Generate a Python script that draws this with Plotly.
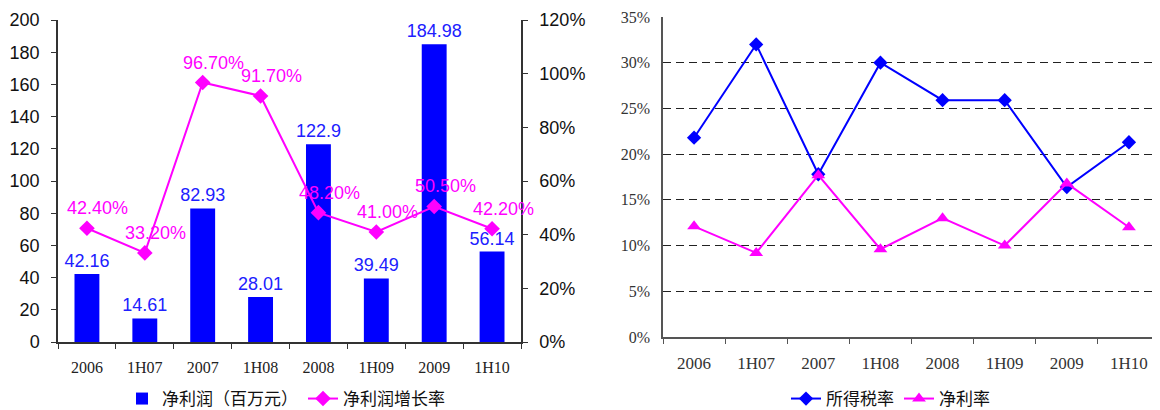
import plotly.graph_objects as go

categories = ["2006", "1H07", "2007", "1H08", "2008", "1H09", "2009", "1H10"]
net_profit = [42.16, 14.61, 82.93, 28.01, 122.9, 39.49, 184.98, 56.14]
net_profit_labels = ["42.16", "14.61", "82.93", "28.01", "122.9", "39.49", "184.98", "56.14"]
profit_growth = [0.424, 0.332, 0.967, 0.917, 0.482, 0.410, 0.505, 0.422]
income_tax_rate = [0.218, 0.32, 0.178, 0.30, 0.259, 0.259, 0.164, 0.213]
net_margin = [0.121, 0.092, 0.177, 0.096, 0.130, 0.100, 0.168, 0.120]

BLUE = "#0000FF"
MAG = "#FF00FF"
SANS = "Liberation Sans, Arial, sans-serif"
SERIF = "Liberation Serif, DejaVu Serif, serif"
CJK = "Noto Sans CJK SC, sans-serif"

fig = go.Figure()

fig.add_trace(go.Bar(
    x=categories, y=net_profit, name="净利润（百万元）",
    marker=dict(color=BLUE, line=dict(width=0)), width=0.43,
    text=net_profit_labels, textposition="outside", constraintext="none",
    textfont=dict(color="#2020FF", size=18, family=SANS),
    cliponaxis=False, xaxis="x", yaxis="y", legend="legend",
))
fig.add_trace(go.Scatter(
    x=categories, y=profit_growth, name="净利润增长率",
    mode="lines+markers",
    line=dict(color=MAG, width=2),
    marker=dict(symbol="diamond", size=12, color=MAG),
    cliponaxis=False, xaxis="x", yaxis="y2", legend="legend",
))
# labels of the growth line: category index on the category axis
for i, v in enumerate(profit_growth):
    fig.add_annotation(x=i, y=v, xref="x", yref="y2", text=f"{v*100:.2f}%",
                       showarrow=False, xshift=11, yshift=20,
                       font=dict(color=MAG, size=18, family=SANS))

fig.add_trace(go.Scatter(
    x=categories, y=income_tax_rate, name="所得税率",
    mode="lines+markers", line=dict(color=BLUE, width=2),
    marker=dict(symbol="diamond", size=11, color=BLUE),
    cliponaxis=False, xaxis="x3", yaxis="y3", legend="legend2",
))
fig.add_trace(go.Scatter(
    x=categories, y=net_margin, name="净利率",
    mode="lines+markers", line=dict(color=MAG, width=2),
    marker=dict(symbol="triangle-up", size=12, color=MAG),
    cliponaxis=False, xaxis="x3", yaxis="y3", legend="legend2",
))

# page has an 8px body margin; figure sized so that it fills the window
OFF = 8
W, H = 1160 - OFF, 410 - OFF
def px_x(a, b):
    return [(a - OFF) / W, min(1.0, (b - OFF) / W)]
def px_y(top, bottom):
    return [(H - (bottom - OFF)) / H, (H - (top - OFF)) / H]
def py(y):
    return (H - (y - OFF)) / H
def pxx(x):
    return (x - OFF) / W

ncat = len(categories)
fig.update_layout(
    width=W, height=H, margin=dict(l=0, r=0, t=0, b=0, autoexpand=False),
    paper_bgcolor="white", plot_bgcolor="white",
    xaxis=dict(domain=px_x(58, 521), anchor="y", type="category", automargin=False,
               range=[-0.5, ncat - 0.5], categoryorder="array", categoryarray=categories,
               showline=True, linecolor="#333", linewidth=1.5,
               ticks="outside", tickson="boundaries", ticklen=5, tickcolor="#333",
               tickfont=dict(family=SERIF, size=16, color="#222"),
               ticklabelstandoff=10, showgrid=False),
    yaxis=dict(domain=px_y(20, 342), anchor="x", range=[0, 200], dtick=20, automargin=False,
               showline=True, linecolor="#333", linewidth=1.5,
               ticks="outside", ticklen=5, tickcolor="#333",
               tickfont=dict(family=SANS, size=18, color="#111"),
               ticklabelstandoff=8, showgrid=False, zeroline=False),
    yaxis2=dict(overlaying="y", side="right", anchor="x", range=[0, 1.2], dtick=0.2,
                automargin=False,
                tickformat=".0%", showline=True, linecolor="#333", linewidth=1.5,
                ticks="outside", ticklen=5, tickcolor="#333",
                tickfont=dict(family=SANS, size=18, color="#111"),
                ticklabelstandoff=8, showgrid=False, zeroline=False),
    xaxis3=dict(domain=px_x(663, 1160), anchor="y3", type="category", automargin=False,
                range=[-0.5, ncat - 0.5],
                showline=True, linecolor="#555", linewidth=1.5,
                ticks="outside", tickson="boundaries", ticklen=5, tickcolor="#555",
                tickfont=dict(family=SERIF, size=17, color="#333"),
                ticklabelstandoff=10, showgrid=False),
    yaxis3=dict(domain=px_y(17, 337), anchor="x3", range=[0, 0.35], dtick=0.05,
                automargin=False,
                tickformat=".0%", showline=True, linecolor="#555", linewidth=1.5,
                tickfont=dict(family=SERIF, size=16, color="#333"),
                ticklabelstandoff=8,
                showgrid=True, gridcolor="#222", griddash="8px,5px", gridwidth=1,
                zeroline=False),
    legend=dict(orientation="h", x=pxx(122), y=py(399), xanchor="left", yanchor="middle",
                font=dict(family=CJK, size=17, color="#111"), bgcolor="rgba(0,0,0,0)",
                traceorder="normal"),
    legend2=dict(orientation="h", x=pxx(786), y=py(399), xanchor="left", yanchor="middle",
                 font=dict(family=CJK, size=17, color="#111"), bgcolor="rgba(0,0,0,0)",
                 traceorder="normal"),
    showlegend=True,
)

fig.write_html("out.html")
